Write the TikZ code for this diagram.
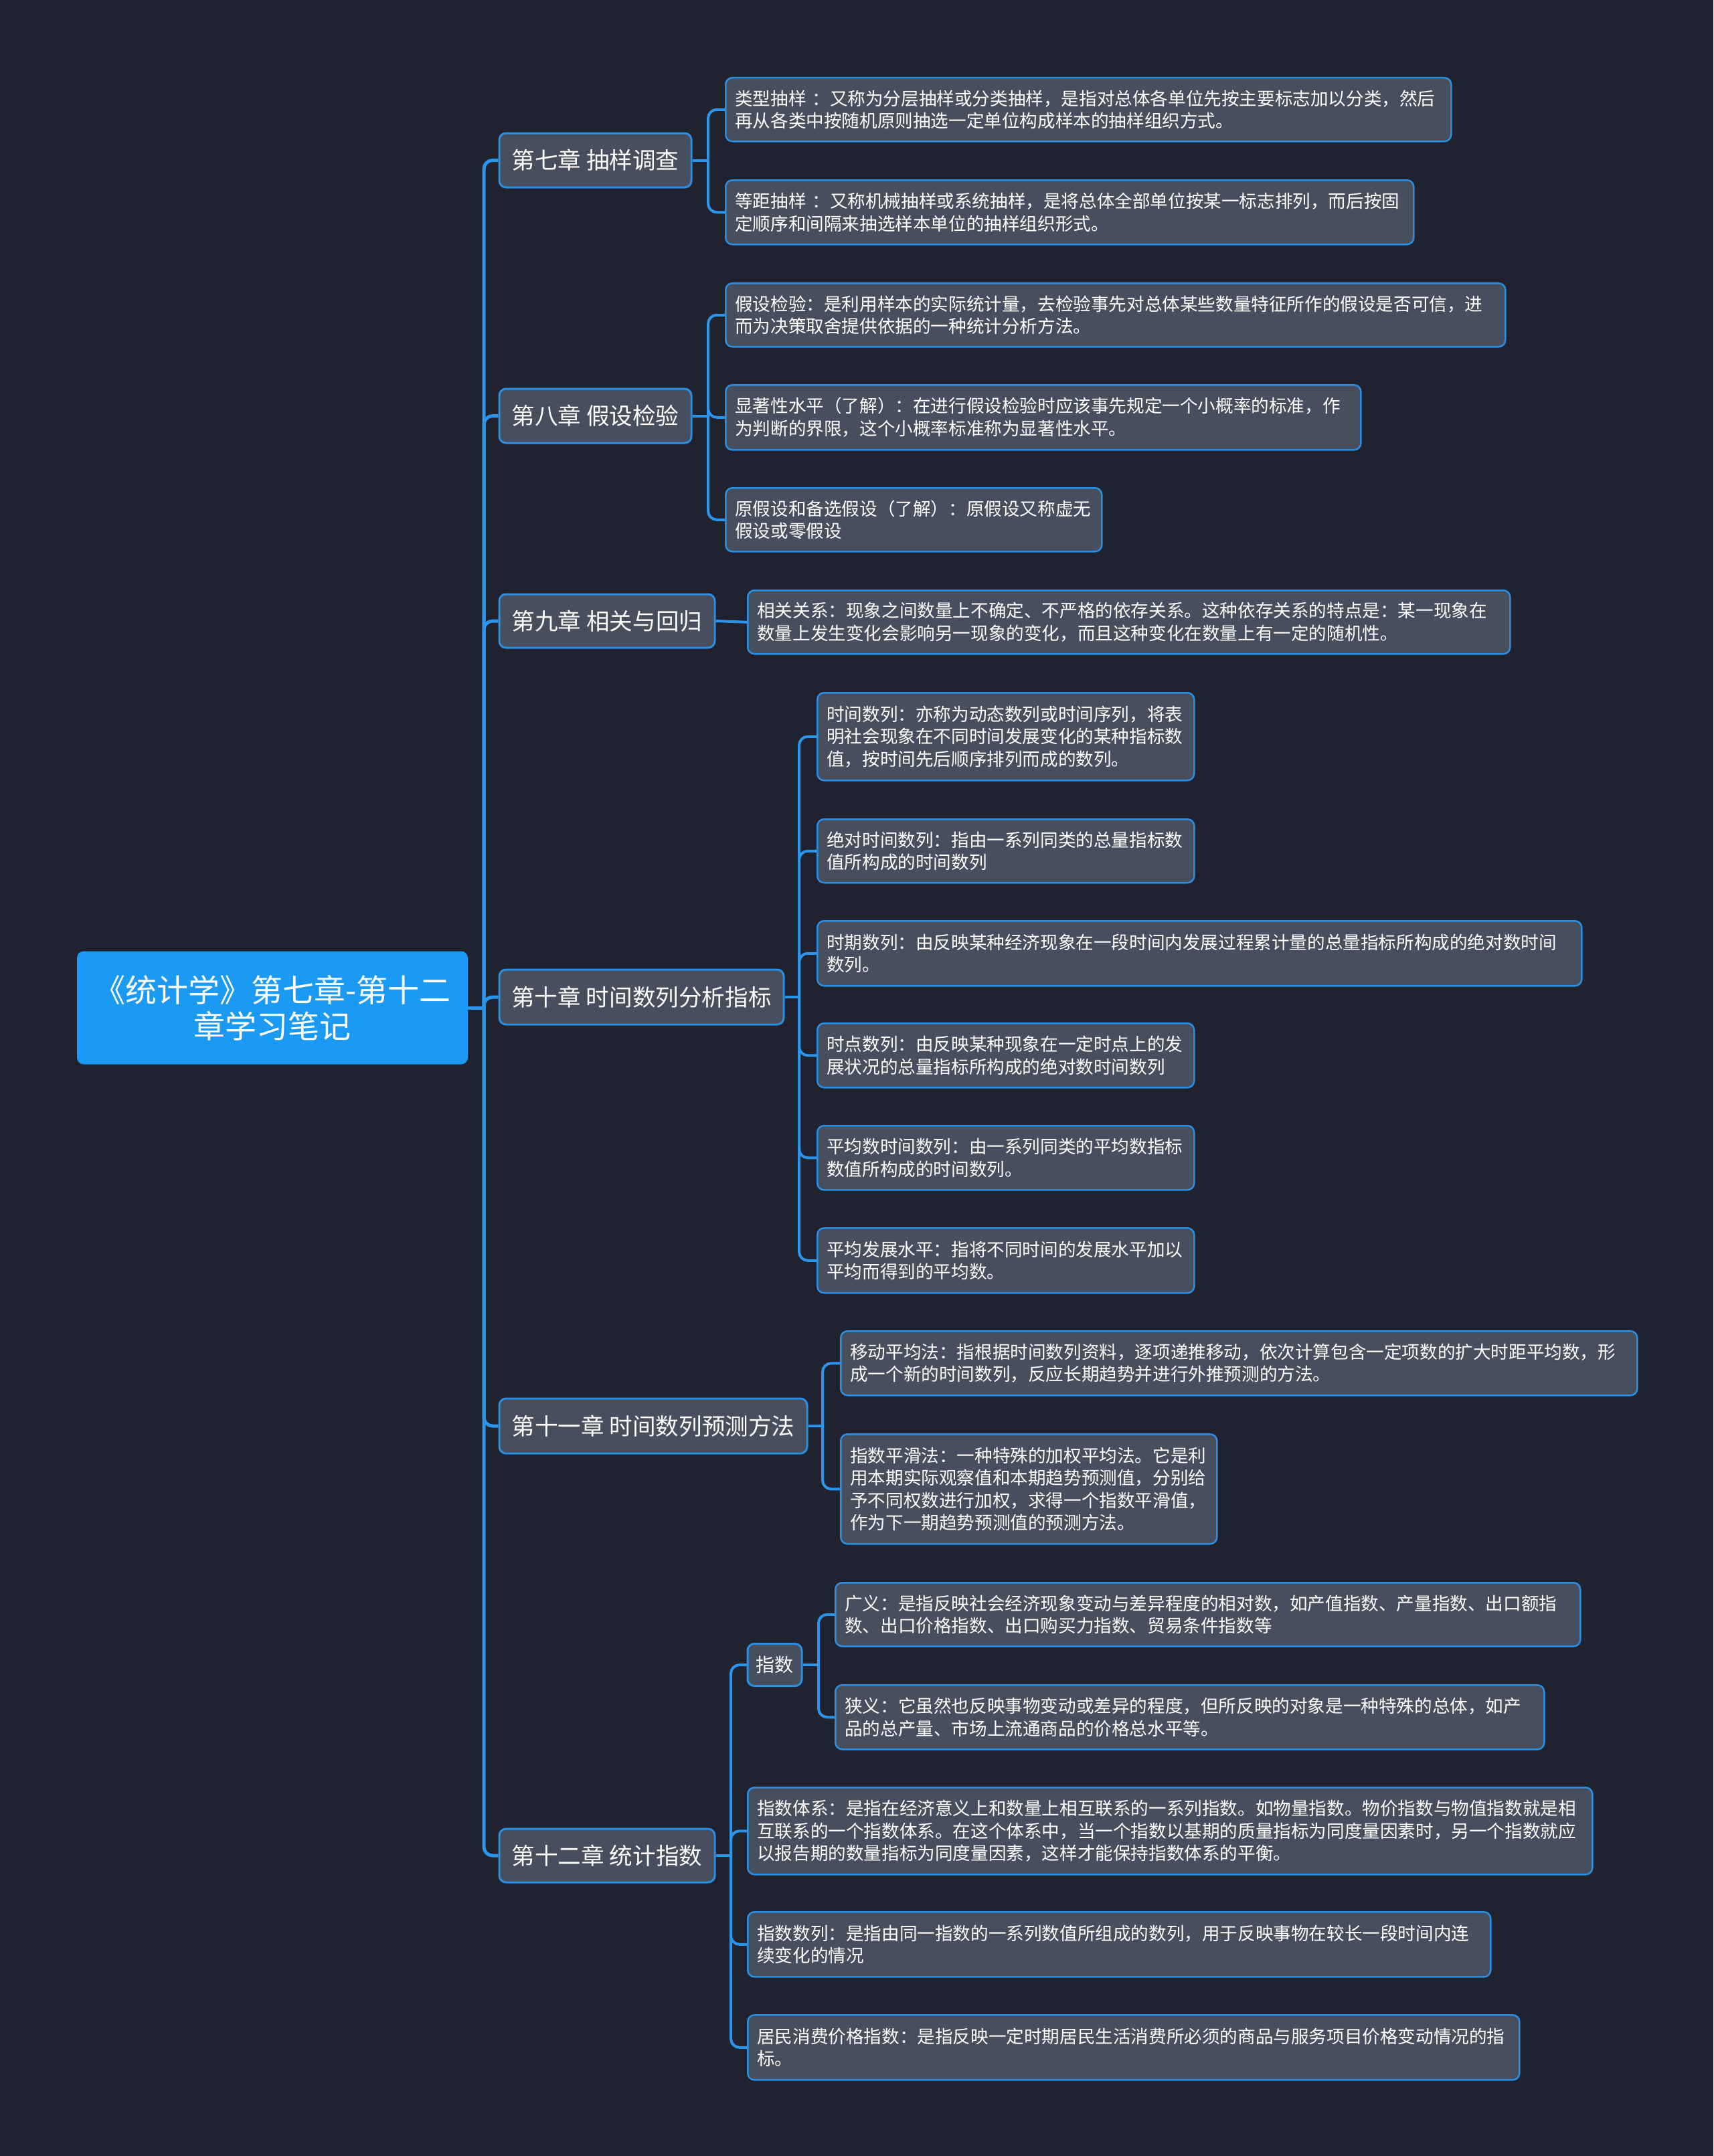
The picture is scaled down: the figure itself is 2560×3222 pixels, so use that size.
\documentclass[tikz,border=0pt]{standalone}
\usepackage{fontspec}
\setmainfont{Noto Sans CJK SC}
\usetikzlibrary{calc}
\definecolor{bg}{HTML}{20232F}
\definecolor{boxfill}{HTML}{474E5D}
\definecolor{edge}{HTML}{2A8EE2}
\definecolor{link}{HTML}{2B95EC}
\definecolor{rootfill}{HTML}{1A9AF2}
\tikzset{
  mroot/.style={fill=rootfill, rounded corners=5pt, text=white, font=\fontsize{23.5}{27}\selectfont, align=center, inner sep=0pt},
  chap/.style={fill=boxfill, draw=edge, line width=1.5pt, rounded corners=5pt, text=white, font=\fontsize{17.3}{20}\selectfont, inner sep=0pt},
  subnode/.style={chap, font=\fontsize{14}{17}\selectfont},
  leaf/.style={fill=boxfill, draw=edge, line width=1.25pt, rounded corners=5pt, text=white, font=\fontsize{13.3}{16.8}\selectfont, align=left, inner xsep=7pt, inner ysep=0pt, anchor=north west},
  conn/.style={draw=link, line width=2pt, rounded corners=6.5pt},
  trunk/.style={conn, line width=2.5pt}
}
\begin{document}
\begin{tikzpicture}[x=0.5pt,y=-0.5pt]
\fill[bg] (0,0) rectangle (2560,3222);
\useasboundingbox (0,0) rectangle (2560,3222);

% root
\node[mroot, minimum width=292pt, minimum height=84.5pt] (root) at (407,1506) {《统计学》第七章-第十二\\章学习笔记};

% chapters
\node[chap, minimum width=143.5pt, minimum height=40.5pt] (c7) at (889.5,239.5) {第七章 抽样调查};
\node[chap, minimum width=143.5pt, minimum height=40.5pt] (c8) at (889.5,621.5) {第八章 假设检验};
\node[chap, minimum width=161pt, minimum height=40pt] (c9) at (907,928) {第九章 相关与回归};
\node[chap, minimum width=212.5pt, minimum height=41pt] (c10) at (958.5,1490) {第十章 时间数列分析指标};
\node[chap, minimum width=230pt, minimum height=41pt] (c11) at (976,2131) {第十一章 时间数列预测方法};
\node[chap, minimum width=161pt, minimum height=40pt] (c12) at (907,2773) {第十二章 统计指数};

% chapter 7
\node[leaf, text width=528pt, minimum height=47.5pt] (l71) at (1083,115) {类型抽样 ：又称为分层抽样或分类抽样，是指对总体各单位先按主要标志加以分类，然后\\再从各类中按随机原则抽选一定单位构成样本的抽样组织方式。};
\node[leaf, text width=500pt, minimum height=48pt] (l72) at (1083,268) {等距抽样 ：又称机械抽样或系统抽样，是将总体全部单位按某一标志排列，而后按固\\定顺序和间隔来抽选样本单位的抽样组织形式。};

% chapter 8
\node[leaf, text width=568.5pt, minimum height=47.5pt] (l81) at (1083,422) {假设检验：是利用样本的实际统计量，去检验事先对总体某些数量特征所作的假设是否可信，进\\而为决策取舍提供依据的一种统计分析方法。};
\node[leaf, text width=460.5pt, minimum height=48.5pt] (l82) at (1083,574) {显著性水平（了解）：在进行假设检验时应该事先规定一个小概率的标准，作\\为判断的界限，这个小概率标准称为显著性水平。};
\node[leaf, text width=267pt, minimum height=47.5pt] (l83) at (1083,728) {原假设和备选假设（了解）：原假设又称虚无\\假设或零假设};

% chapter 9
\node[leaf, text width=555.5pt, minimum height=47.5pt] (l91) at (1116,881) {相关关系：现象之间数量上不确定、不严格的依存关系。这种依存关系的特点是：某一现象在\\数量上发生变化会影响另一现象的变化，而且这种变化在数量上有一定的随机性。};

% chapter 10
\node[leaf, text width=267.5pt, minimum height=65.5pt] (l101) at (1220,1034) {时间数列：亦称为动态数列或时间序列，将表\\明社会现象在不同时间发展变化的某种指标数\\值，按时间先后顺序排列而成的数列。};
\node[leaf, text width=267.5pt, minimum height=47.5pt] (l102) at (1220,1223) {绝对时间数列：指由一系列同类的总量指标数\\值所构成的时间数列};
\node[leaf, text width=557pt, minimum height=48.5pt] (l103) at (1220,1375) {时期数列：由反映某种经济现象在一段时间内发展过程累计量的总量指标所构成的绝对数时间\\数列。};
\node[leaf, text width=267.5pt, minimum height=48pt] (l104) at (1220,1528) {时点数列：由反映某种现象在一定时点上的发\\展状况的总量指标所构成的绝对数时间数列};
\node[leaf, text width=267.5pt, minimum height=48pt] (l105) at (1220,1681) {平均数时间数列：由一系列同类的平均数指标\\数值所构成的时间数列。};
\node[leaf, text width=267.5pt, minimum height=48.5pt] (l106) at (1220,1834) {平均发展水平：指将不同时间的发展水平加以\\平均而得到的平均数。};

% chapter 11
\node[leaf, text width=581pt, minimum height=48pt] (l111) at (1255,1988) {移动平均法：指根据时间数列资料，逐项递推移动，依次计算包含一定项数的扩大时距平均数，形\\成一个新的时间数列，反应长期趋势并进行外推预测的方法。};
\node[leaf, text width=267pt, minimum height=82pt] (l112) at (1255,2142) {指数平滑法：一种特殊的加权平均法。它是利\\用本期实际观察值和本期趋势预测值，分别给\\予不同权数进行加权，求得一个指数平滑值，\\作为下一期趋势预测值的预测方法。};

% chapter 12
\node[subnode, minimum width=40.5pt, minimum height=31.5pt] (zs) at (1157.5,2488) {指数};
\node[leaf, text width=542.5pt, minimum height=47.5pt] (l1201) at (1247,2364) {广义：是指反映社会经济现象变动与差异程度的相对数，如产值指数、产量指数、出口额指\\数、出口价格指数、出口购买力指数、贸易条件指数等};
\node[leaf, text width=515.5pt, minimum height=48pt] (l1202) at (1247,2517) {狭义：它虽然也反映事物变动或差异的程度，但所反映的对象是一种特殊的总体，如产\\品的总产量、市场上流通商品的价格总水平等。};
\node[leaf, text width=617pt, minimum height=65pt] (l121) at (1116,2670) {指数体系：是指在经济意义上和数量上相互联系的一系列指数。如物量指数。物价指数与物值指数就是相\\互联系的一个指数体系。在这个体系中，当一个指数以基期的质量指标为同度量因素时，另一个指数就应\\以报告期的数量指标为同度量因素，这样才能保持指数体系的平衡。};
\node[leaf, text width=541pt, minimum height=48.5pt] (l122) at (1116,2856) {指数数列：是指由同一指数的一系列数值所组成的数列，用于反映事物在较长一段时间内连\\续变化的情况};
\node[leaf, text width=562.5pt, minimum height=48.5pt] (l123) at (1116,3010) {居民消费价格指数：是指反映一定时期居民生活消费所必须的商品与服务项目价格变动情况的指\\标。};

% junctions
\coordinate (jr) at (723,1506);
\coordinate (j7) at (1058,239.5);
\coordinate (j8) at (1058,621.5);
\coordinate (j10) at (1194,1490);
\coordinate (j11) at (1229,2131);
\coordinate (j12) at (1092,2773);
\coordinate (jz) at (1223,2488);

% connectors
\draw[trunk] (root.east) -- (jr);
\foreach \c in {c7,c8,c9,c10,c11,c12} \draw[trunk] (jr) |- (\c.west);

\draw[conn] (c7.east) -- (j7);
\foreach \l in {l71,l72} \draw[conn] (j7) |- (\l.west);

\draw[conn] (c8.east) -- (j8);
\foreach \l in {l81,l82,l83} \draw[conn] (j8) |- (\l.west);

\draw[conn] (c9.east) -- (l91.west);

\draw[conn] (c10.east) -- (j10);
\foreach \l in {l101,l102,l103,l104,l105,l106} \draw[conn] (j10) |- (\l.west);

\draw[conn] (c11.east) -- (j11);
\foreach \l in {l111,l112} \draw[conn] (j11) |- (\l.west);

\draw[conn] (c12.east) -- (j12);
\foreach \l in {zs,l121,l122,l123} \draw[conn] (j12) |- (\l.west);

\draw[conn] (zs.east) -- (jz);
\foreach \l in {l1201,l1202} \draw[conn] (jz) |- (\l.west);
\end{tikzpicture}
\end{document}
